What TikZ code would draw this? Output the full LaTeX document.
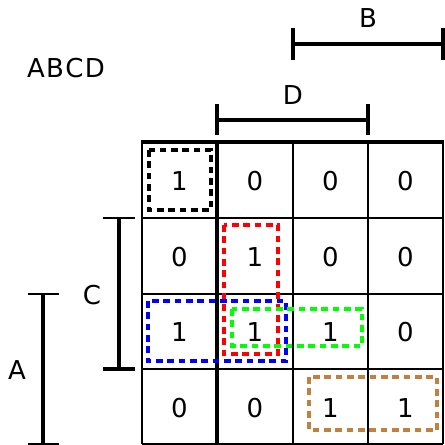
\documentclass[tikz,border=0pt]{standalone}
\usepackage{fontspec}
\setmainfont{DejaVu Sans}
\definecolor{kbrown}{RGB}{191,128,64}
\definecolor{kgreen}{RGB}{0,255,0}
\begin{document}
\begin{tikzpicture}[x=0.75pt,y=-0.75pt,
  txt/.style={font=\fontsize{19.5}{22}\selectfont, inner sep=0pt},
  grid/.style={line width=1.8pt},
  thick line/.style={line width=2.6pt},
  brk/.style={line width=2.3pt},
  grp/.style={line width=2.3pt, dash pattern=on 5pt off 3.5pt}]
\useasboundingbox (0,0) rectangle (444,445);
% grid
\foreach \x in {142,293,368,443} \draw[grid] (\x,142) -- (\x,444);
\foreach \y in {218,294,369,444} \draw[grid] (142,\y) -- (443,\y);
\draw[thick line] (217,142) -- (217,444);
\draw[thick line] (141,142) -- (444,142);
% cells
\node[txt] (c11) at (179.5,181) {1};
\node[txt] (c12) at (255,181) {0};
\node[txt] (c13) at (330.5,181) {0};
\node[txt] (c14) at (405.5,181) {0};
\node[txt] (c21) at (179.5,257) {0};
\node[txt] (c22) at (255,257) {1};
\node[txt] (c23) at (330.5,257) {0};
\node[txt] (c24) at (405.5,257) {0};
\node[txt] (c31) at (179.5,332) {1};
\node[txt] (c32) at (255,332) {1};
\node[txt] (c33) at (330.5,332) {1};
\node[txt] (c34) at (405.5,332) {0};
\node[txt] (c41) at (179.5,408) {0};
\node[txt] (c42) at (255,408) {0};
\node[txt] (c43) at (330.5,408) {1};
\node[txt] (c44) at (405.5,408) {1};
% labels
\node[txt] (lab) at (66,68) {A\kern1pt B\kern1pt C\kern1pt D};
\node[txt] (lB) at (368,18) {B};
\node[txt] (lD) at (293,95) {D};
\node[txt] (lC) at (92,295) {C};
\node[txt] (lA) at (17,370) {A};
% brackets
\draw[brk] (293,44) -- (443,44);
\draw[brk] (293,28) -- (293,60);
\draw[brk] (443,28) -- (443,60);
\draw[brk] (217,120) -- (368,120);
\draw[brk] (217,104) -- (217,135);
\draw[brk] (368,104) -- (368,135);
\draw[brk] (119,218) -- (119,369);
\draw[grid] (103,218) -- (135,218);
\draw[line width=3pt] (103,369) -- (135,369);
\draw[brk] (43,294) -- (43,444);
\draw[grid] (28,294) -- (59,294);
\draw[grid] (28,444) -- (59,444);
% groups
\draw[grp, black] (149,150) rectangle (211,210);
\draw[grp, red] (224,225) rectangle (278,354);
\draw[grp, blue] (148,301) rectangle (286,361);
\draw[grp, kgreen] (232,309) rectangle (362,346);
\draw[grp, kbrown] (309,377) rectangle (437,430);
\end{tikzpicture}
\end{document}
